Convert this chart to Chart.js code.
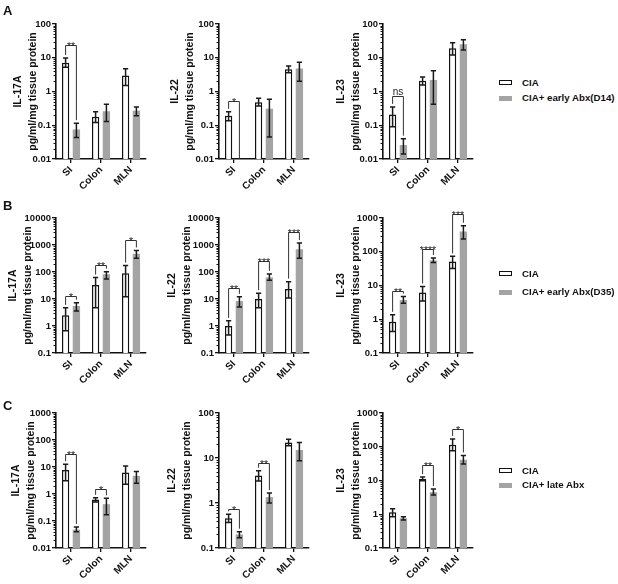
<!DOCTYPE html>
<html><head><meta charset="utf-8">
<script src="https://cdn.jsdelivr.net/npm/chart.js@4.4.1/dist/chart.umd.min.js"></script>
<style>
html,body{margin:0;padding:0;background:#fff;}
body{width:618px;height:584px;position:relative;overflow:hidden;font-family:"Liberation Sans",Arial,sans-serif;}
canvas{position:absolute;}
.lt{position:absolute;font-weight:bold;font-size:13px;line-height:13px;color:#111;}
.lg{position:absolute;font-weight:bold;font-size:9.7px;line-height:10px;color:#111;white-space:nowrap;}
.sw{position:absolute;box-sizing:border-box;width:13px;height:5px;}
</style></head><body>
<script>
// ---------- DATA ----------
const categories = ['SI', 'Colon', 'MLN'];
const cytokines = ['IL-17A', 'IL-22', 'IL-23'];
const unitLabel = 'pg/ml/mg tissue protein';
const panelLetters = ['A', 'B', 'C'];
const legendA = ['CIA', 'CIA+ early Abx(D14)'];
const legendB = ['CIA', 'CIA+ early Abx(D35)'];
const legendC = ['CIA', 'CIA+ late Abx'];

// y tick labels
const ticksA17 = ['0.01', '0.1', '1', '10', '100'];
const ticksA22 = ['0.01', '0.1', '1', '10', '100'];
const ticksA23 = ['0.01', '0.1', '1', '10', '100'];
const ticksB17 = ['0.1', '1', '10', '100', '1000', '10000'];
const ticksB22 = ['0.1', '1', '10', '100', '1000', '10000'];
const ticksB23 = ['0.1', '1', '10', '100', '1000'];
const ticksC17 = ['0.01', '0.1', '1', '10', '100', '1000'];
const ticksC22 = ['0.1', '1', '10', '100'];
const ticksC23 = ['0.1', '1', '10', '100', '1000'];

// Row A (early Abx D14)
const A17_cia = [7.1, 0.18, 3.0], A17_ciaHi = [9.8, 0.25, 4.7], A17_ciaLo = [5.2, 0.12, 1.5];
const A17_abx = [0.075, 0.26, 0.27], A17_abxHi = [0.115, 0.42, 0.35], A17_abxLo = [0.043, 0.13, 0.19];
const A17_sig = [[0, 24, '**']];
const A22_cia = [0.19, 0.48, 4.6], A22_ciaHi = [0.25, 0.63, 5.7], A22_ciaLo = [0.135, 0.37, 3.6];
const A22_abx = [null, 0.31, 4.8], A22_abxHi = [null, 0.59, 7.4], A22_abxLo = [null, 0.045, 2.0];
const A22_sig = [[0, 0.53, '*']];
const A23_cia = [0.21, 2.1, 19], A23_ciaHi = [0.35, 2.7, 28], A23_ciaLo = [0.09, 1.55, 12];
const A23_abx = [0.026, 2.2, 25], A23_abxHi = [0.04, 4.1, 34], A23_abxLo = [0.014, 0.42, 17];
const A23_sig = [[0, 0.74, 'ns']];

// Row B (early Abx D35)
const B17_cia = [2.5, 33, 90], B17_ciaHi = [4.7, 62, 174], B17_ciaLo = [0.66, 4.7, 12];
const B17_abx = [5.5, 83, 470], B17_abxHi = [7.3, 103, 630], B17_abxLo = [3.6, 55, 320];
const B17_sig = [[0, 13, '*'], [1, 183, '**'], [2, 1480, '*']];
const B22_cia = [1.0, 10, 23.5], B22_ciaHi = [1.55, 16.5, 44], B22_ciaLo = [0.46, 4.7, 11];
const B22_abx = [8.4, 63, 700], B22_abxHi = [12, 85, 1180], B22_abxLo = [5.1, 50, 320];
const B22_sig = [[0, 26, '**'], [1, 245, '***'], [2, 2930, '***']];
const B23_cia = [0.85, 6.2, 51], B23_ciaHi = [1.35, 9.3, 73], B23_ciaLo = [0.43, 3.5, 32];
const B23_abx = [3.7, 55, 400], B23_abxHi = [4.7, 65, 590], B23_abxLo = [3.0, 48, 240];
const B23_sig = [[0, 7, '**'], [1, 123, '****'], [2, 1340, '***']];

// Row C (late Abx)
const C17_cia = [7.8, 0.63, 6.2], C17_ciaHi = [12.6, 0.72, 11], C17_ciaLo = [3.1, 0.51, 2.3];
const C17_abx = [0.048, 0.42, 4.7], C17_abxHi = [0.06, 0.69, 6.8], C17_abxLo = [0.04, 0.17, 2.5];
const C17_sig = [[0, 31, '**'], [1, 1.5, '*']];
const C22_cia = [0.46, 4.1, 22], C22_ciaHi = [0.56, 5.2, 26], C22_ciaLo = [0.37, 3.1, 18.6];
const C22_abx = [0.2, 1.35, 15], C22_abxHi = [0.23, 1.66, 22], C22_abxLo = [0.17, 1.0, 8.7];
const C22_sig = [[0, 0.72, '*'], [1, 7.9, '**']];
const C23_cia = [1.15, 11, 115], C23_ciaHi = [1.45, 12.6, 170], C23_ciaLo = [0.85, 9.8, 76];
const C23_abx = [0.76, 4.5, 41], C23_abxHi = [0.85, 5.6, 55], C23_abxLo = [0.68, 3.7, 31];
const C23_sig = [[1, 29.5, '**'], [2, 340, '*']];

// ---------- PANELS ----------
const panels = [
  [
    {cia: A17_cia, ciaHi: A17_ciaHi, ciaLo: A17_ciaLo, abx: A17_abx, abxHi: A17_abxHi, abxLo: A17_abxLo, sig: A17_sig, ticks: ticksA17},
    {cia: A22_cia, ciaHi: A22_ciaHi, ciaLo: A22_ciaLo, abx: A22_abx, abxHi: A22_abxHi, abxLo: A22_abxLo, sig: A22_sig, ticks: ticksA22},
    {cia: A23_cia, ciaHi: A23_ciaHi, ciaLo: A23_ciaLo, abx: A23_abx, abxHi: A23_abxHi, abxLo: A23_abxLo, sig: A23_sig, ticks: ticksA23}
  ],
  [
    {cia: B17_cia, ciaHi: B17_ciaHi, ciaLo: B17_ciaLo, abx: B17_abx, abxHi: B17_abxHi, abxLo: B17_abxLo, sig: B17_sig, ticks: ticksB17},
    {cia: B22_cia, ciaHi: B22_ciaHi, ciaLo: B22_ciaLo, abx: B22_abx, abxHi: B22_abxHi, abxLo: B22_abxLo, sig: B22_sig, ticks: ticksB22},
    {cia: B23_cia, ciaHi: B23_ciaHi, ciaLo: B23_ciaLo, abx: B23_abx, abxHi: B23_abxHi, abxLo: B23_abxLo, sig: B23_sig, ticks: ticksB23}
  ],
  [
    {cia: C17_cia, ciaHi: C17_ciaHi, ciaLo: C17_ciaLo, abx: C17_abx, abxHi: C17_abxHi, abxLo: C17_abxLo, sig: C17_sig, ticks: ticksC17},
    {cia: C22_cia, ciaHi: C22_ciaHi, ciaLo: C22_ciaLo, abx: C22_abx, abxHi: C22_abxHi, abxLo: C22_abxLo, sig: C22_sig, ticks: ticksC22},
    {cia: C23_cia, ciaHi: C23_ciaHi, ciaLo: C23_ciaLo, abx: C23_abx, abxHi: C23_abxHi, abxLo: C23_abxLo, sig: C23_sig, ticks: ticksC23}
  ]
];
const legends = [legendA, legendB, legendC];

// ---------- LAYOUT ----------
const FONT = '"Liberation Sans", Arial, sans-serif';
const colChartLeft = [56, 219, 383];
const rowChartTop = [24, 218, 413];
const CHART_W = 90, CHART_H = 135;
const YW = 56, PT = 22, PR = 8, XH = 40;
const titleLine1 = [[18, 175, 341], [13, 172, 341], [16, 172, 341]];
const TITLE_LH = 15;
const letterTop = [4, 199, 399];
const legendRows = [
  {sw: [80, 95.7], tx: [77.8, 93.4]},
  {sw: [271, 290], tx: [269.4, 287.4]},
  {sw: [468, 482.7], tx: [465.8, 480.1]}
];

Chart.defaults.font.family = FONT;

function overlayPlugin(p) {
  return {
    id: 'overlay',
    afterDraw(chart) {
      const ctx = chart.ctx, ys = chart.scales.y, xs = chart.scales.x, ca = chart.chartArea;
      ctx.save();
      // minor log ticks
      ctx.strokeStyle = '#111'; ctx.lineWidth = 1;
      const e0 = Math.round(Math.log10(ys.min)), e1 = Math.round(Math.log10(ys.max));
      ctx.beginPath();
      for (let e = e0; e < e1; e++) {
        for (let m = 2; m <= 9; m++) {
          const py = Math.round(ys.getPixelForValue(m * Math.pow(10, e))) + 0.5;
          ctx.moveTo(ca.left - 2.5, py); ctx.lineTo(ca.left, py);
        }
      }
      ctx.stroke();
      // error bars
      const sets = [[p.cia, p.ciaHi, p.ciaLo], [p.abx, p.abxHi, p.abxLo]];
      ctx.strokeStyle = '#1a1a1a'; ctx.lineWidth = 1.5;
      sets.forEach((s, di) => {
        const meta = chart.getDatasetMeta(di);
        s[0].forEach((v, j) => {
          if (v == null) return;
          const el = meta.data[j];
          const yh = ys.getPixelForValue(s[1][j]), yl = ys.getPixelForValue(s[2][j]);
          ctx.beginPath();
          ctx.moveTo(el.x, yh); ctx.lineTo(el.x, yl);
          ctx.moveTo(el.x - 2.6, yh); ctx.lineTo(el.x + 2.6, yh);
          ctx.moveTo(el.x - 2.6, yl); ctx.lineTo(el.x + 2.6, yl);
          ctx.stroke();
        });
      });
      // significance brackets
      const m0 = chart.getDatasetMeta(0), m1 = chart.getDatasetMeta(1);
      ctx.strokeStyle = '#333'; ctx.lineWidth = 1; ctx.fillStyle = '#222';
      p.sig.forEach(([c, val, lab]) => {
        const xw = m0.data[c].x;
        const center = xs.getPixelForValue(c);
        const xg = (p.abx[c] != null && isFinite(m1.data[c].x)) ? m1.data[c].x : 2 * center - xw;
        const yb = Math.round(ys.getPixelForValue(val)) + 0.5;
        const yL = ys.getPixelForValue(p.ciaHi[c]) - 3;
        const yR = p.abx[c] != null ? ys.getPixelForValue(p.abxHi[c]) - 3 : ca.bottom;
        ctx.beginPath();
        ctx.moveTo(xw, yL); ctx.lineTo(xw, yb); ctx.lineTo(xg, yb); ctx.lineTo(xg, yR);
        ctx.stroke();
        ctx.textAlign = 'center'; ctx.textBaseline = 'alphabetic';
        if (lab === 'ns') {
          ctx.font = '10px ' + FONT;
          ctx.fillText(lab, (xw + xg) / 2, yb - 1.5);
        } else {
          ctx.font = '10.5px ' + FONT;
          ctx.fillText(lab, (xw + xg) / 2, yb + 4);
        }
      });
      ctx.restore();
    }
  };
}

function makePanel(r, c) {
  const p = panels[r][c];
  const leg = legends[r];
  const cv = document.createElement('canvas');
  const left = colChartLeft[c] - YW, top = rowChartTop[r] - PT;
  const W = YW + CHART_W + PR, H = PT + CHART_H + XH;
  cv.width = W; cv.height = H;
  cv.style.left = left + 'px'; cv.style.top = top + 'px';
  cv.style.width = W + 'px'; cv.style.height = H + 'px';
  document.body.appendChild(cv);
  const titlePad = titleLine1[r][c] - left - TITLE_LH / 2;
  const yMin = Number(p.ticks[0]), yMax = Number(p.ticks[p.ticks.length - 1]);
  new Chart(cv, {
    type: 'bar',
    data: {
      labels: categories,
      datasets: [
        {label: leg[0], data: p.cia, backgroundColor: '#ffffff', borderColor: '#111', borderWidth: 1.5,
         borderSkipped: 'bottom', categoryPercentage: 0.72, barPercentage: 0.68},
        {label: leg[1], data: p.abx, backgroundColor: '#a4a4a4', borderWidth: 0,
         categoryPercentage: 0.72, barPercentage: 0.68}
      ]
    },
    options: {
      responsive: false, animation: false, devicePixelRatio: 1,
      layout: {padding: {left: 0, top: PT, right: PR, bottom: 0}},
      plugins: {legend: {display: false}, tooltip: {enabled: false}},
      scales: {
        x: {
          type: 'category', offset: true,
          grid: {display: true, drawOnChartArea: false, offset: false, drawTicks: true, tickLength: 4, color: '#111', lineWidth: 1.3},
          border: {display: true, color: '#111', width: 1.6},
          ticks: {font: {family: FONT, size: 10, weight: 'bold'}, color: '#111', maxRotation: 45, minRotation: 45, autoSkip: false, padding: 1},
          afterFit(s) { s.height = XH; }
        },
        y: {
          type: 'logarithmic', min: yMin, max: yMax,
          afterBuildTicks(s) { s.ticks = p.ticks.map(t => ({value: Number(t)})); },
          ticks: {
            autoSkip: false, padding: 1, color: '#111',
            font: {family: FONT, size: 9.5, weight: 'bold'},
            callback: (v) => {
              const t = p.ticks.find(t => Math.abs(Math.log10(Number(t)) - Math.log10(v)) < 1e-6);
              return t === undefined ? '' : t;
            }
          },
          grid: {display: true, drawOnChartArea: false, drawTicks: true, tickLength: 4, color: '#111', lineWidth: 1.3},
          border: {display: true, color: '#111', width: 1.6},
          title: {display: true, text: [cytokines[c], unitLabel], color: '#111',
                  font: {family: FONT, size: 10.5, weight: 'bold', lineHeight: TITLE_LH / 10.5},
                  padding: {top: titlePad, bottom: 0}},
          afterFit(s) { s.width = YW; }
        }
      }
    },
    plugins: [overlayPlugin(p)]
  });
}

for (let r = 0; r < 3; r++) {
  for (let c = 0; c < 3; c++) makePanel(r, c);
  const L = document.createElement('div');
  L.className = 'lt'; L.textContent = panelLetters[r];
  L.style.left = '3px'; L.style.top = letterTop[r] + 'px';
  document.body.appendChild(L);
  const lr = legendRows[r];
  legends[r].forEach((name, i) => {
    const sw = document.createElement('div');
    sw.className = 'sw';
    sw.style.left = '499px'; sw.style.top = lr.sw[i] + 'px';
    if (i === 0) { sw.style.background = '#fff'; sw.style.border = '1.5px solid #111'; }
    else { sw.style.background = '#a4a4a4'; }
    document.body.appendChild(sw);
    const tx = document.createElement('div');
    tx.className = 'lg'; tx.textContent = name;
    tx.style.left = '522px'; tx.style.top = lr.tx[i] + 'px';
    document.body.appendChild(tx);
  });
}
</script>
</body></html>
